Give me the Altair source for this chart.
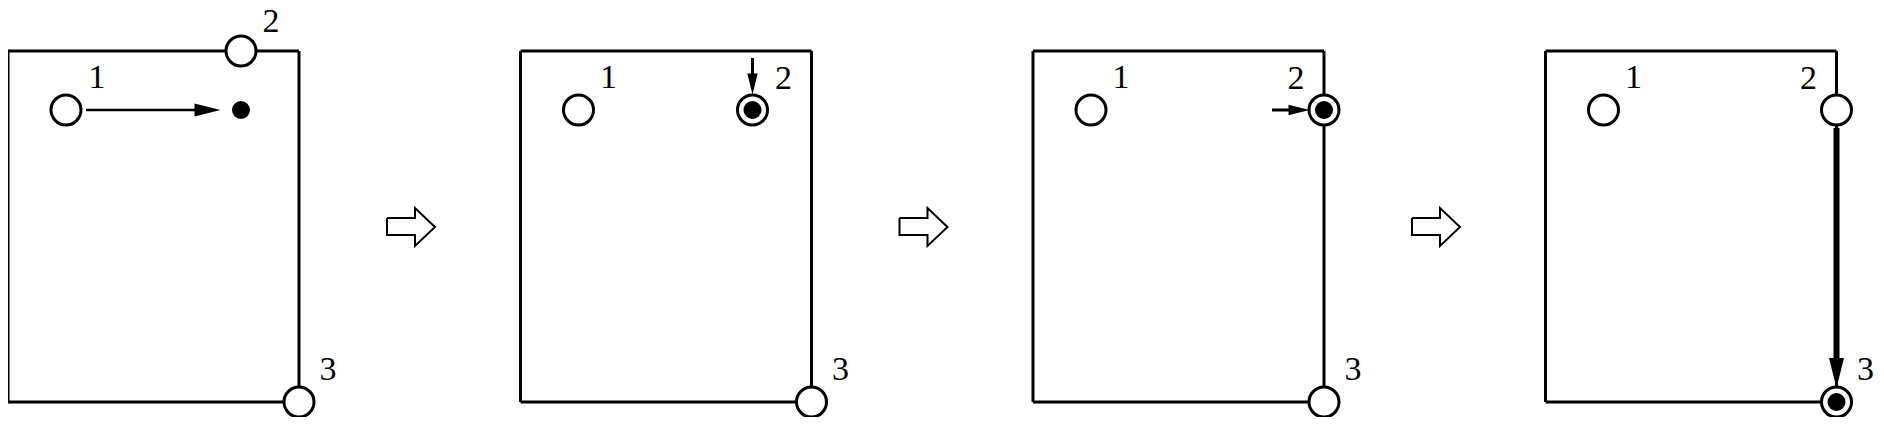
import pandas as pd
import altair as alt

# horizontal shift of each of the four panels (pixels)
panel_shift = [0, 512.5, 1025, 1537.5]

# frame of one panel
frame_left, frame_right, frame_top, frame_bottom = 8, 299, 51, 402

# open circles (node positions) per panel: (panel, x, y)
node_panel = [0, 0, 0, 1, 1, 1, 2, 2, 2, 3, 3, 3]
node_x = [66, 241, 299, 66, 240, 299, 66, 299, 299, 66, 299, 299]
node_y = [110, 51, 402, 110, 110, 402, 110, 110, 402, 110, 110, 402]

# black dots
dot_panel = [0, 1, 2, 3]
dot_x = [241, 240, 299, 299]
dot_y = [110, 110, 110, 402]

# arrows: shaft start/end, head centre, head length, stroke width, angle
arr_panel = [0, 1, 2, 3]
arr_x1 = [86, 240, 247, 299]
arr_y1 = [110, 58, 110, 128]
arr_x2 = [200, 240, 272, 299]
arr_y2 = [110, 80, 110, 370]
arr_hx = [207.5, 240, 274, 299]
arr_hy = [110, 84, 110, 373]
arr_len = [26, 21, 21, 30]
arr_w = [2.5, 3, 3, 6]
arr_ang = [0, 90, 0, 90]

# labels
lab_panel = [0, 0, 0] + [1, 1, 1] + [2, 2, 2] + [3, 3, 3]
lab_text = ["1", "2", "3"] * 4
lab_x = [97, 271, 328] + [96, 271, 328] * 3
lab_y = [78, 22, 370] + [78, 79, 370] * 3

# block arrow outline between panels
blk_x = [387, 415, 415, 435, 415, 415, 387, 387]
blk_y = [218, 218, 208, 227, 246, 235, 235, 218]

xs = alt.Scale(domain=[8, 1876])
ys = alt.Scale(domain=[8, 417], reverse=True)
X = lambda f: alt.X(f, scale=xs, axis=None)
Y = lambda f: alt.Y(f, scale=ys, axis=None)

seg = []
for s in panel_shift:
    L, R = frame_left + s, frame_right + s
    seg += [
        dict(x=L, y=frame_top, x2=R, y2=frame_top),
        dict(x=L, y=frame_bottom, x2=R, y2=frame_bottom),
        dict(x=L, y=frame_top, x2=L, y2=frame_bottom),
        dict(x=R, y=frame_top, x2=R, y2=frame_bottom),
    ]
frame = alt.Chart(pd.DataFrame(seg)).mark_rule(color="black", strokeWidth=3).encode(
    x=X("x:Q"), y=Y("y:Q"), x2="x2:Q", y2="y2:Q")

arr = pd.DataFrame(dict(
    x=[arr_x1[i] + panel_shift[p] for i, p in enumerate(arr_panel)],
    x2=[arr_x2[i] + panel_shift[p] for i, p in enumerate(arr_panel)],
    y=arr_y1, y2=arr_y2, w=arr_w,
    hx=[arr_hx[i] + panel_shift[p] for i, p in enumerate(arr_panel)],
    hy=arr_hy, ang=arr_ang))
arr["size"] = [(l / 2) ** 2 * 4 for l in arr_len]
shafts = alt.Chart(arr).mark_rule(color="black").encode(
    x=X("x:Q"), y=Y("y:Q"), x2="x2:Q", y2="y2:Q",
    strokeWidth=alt.StrokeWidth("w:Q", scale=None))
heads = alt.Chart(arr).mark_point(
    shape="M-1,-0.5L1,0L-1,0.5Z", filled=True, color="black", opacity=1).encode(
    x=X("hx:Q"), y=Y("hy:Q"),
    size=alt.Size("size:Q", scale=None),
    angle=alt.Angle("ang:Q", scale=None))

nodes = pd.DataFrame(dict(
    x=[node_x[i] + panel_shift[p] for i, p in enumerate(node_panel)], y=node_y))
circles = alt.Chart(nodes).mark_point(
    shape="circle", size=900, fill="white", stroke="black", strokeWidth=3,
    filled=False, opacity=1, fillOpacity=1).encode(x=X("x:Q"), y=Y("y:Q"))

dots = pd.DataFrame(dict(
    x=[dot_x[i] + panel_shift[p] for i, p in enumerate(dot_panel)], y=dot_y))
dot_marks = alt.Chart(dots).mark_point(
    shape="circle", size=324, filled=True, color="black", opacity=1).encode(
    x=X("x:Q"), y=Y("y:Q"))

labs = pd.DataFrame(dict(
    x=[lab_x[i] + panel_shift[p] for i, p in enumerate(lab_panel)], y=lab_y, t=lab_text))
texts = alt.Chart(labs).mark_text(
    font="'Liberation Serif', 'Times New Roman', serif", fontSize=34,
    align="center", baseline="middle", color="black").encode(
    x=X("x:Q"), y=Y("y:Q"), text="t:N")

blk_rows = []
for k, s in enumerate(panel_shift[:3]):
    for j, (bx, by) in enumerate(zip(blk_x, blk_y)):
        blk_rows.append(dict(x=bx + s, y=by, g=k, o=j))
blocks = alt.Chart(pd.DataFrame(blk_rows)).mark_line(
    color="black", strokeWidth=2, strokeJoin="miter").encode(
    x=X("x:Q"), y=Y("y:Q"), detail="g:N", order="o:Q")

chart = alt.layer(frame, blocks, shafts, heads, circles, dot_marks, texts).properties(
    width=1868, height=409, padding=0, autosize="none", background="white"
).configure_view(stroke=None)

chart.save("out.html", embed_options={"renderer": "svg", "actions": False})
